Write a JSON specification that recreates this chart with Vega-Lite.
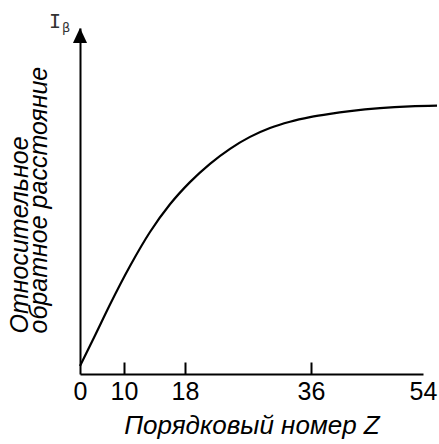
{
  "$schema": "https://vega.github.io/schema/vega-lite/v6.json",
  "width": 343,
  "height": 346,
  "autosize": {"type": "none"},
  "padding": {"left": 80, "top": 28, "right": 16, "bottom": 70},
  "background": "white",
  "config": {"view": {"stroke": null}, "font": "Liberation Sans"},
  "layer": [
    {
      "data": {"values": [
        {"Z": 0, "I": 2.31},
        {"Z": 3.41, "I": 11.13},
        {"Z": 6.82, "I": 20.09},
        {"Z": 10.79, "I": 31.21},
        {"Z": 13.41, "I": 41.04},
        {"Z": 16.03, "I": 49.05},
        {"Z": 18.71, "I": 55.46},
        {"Z": 21.57, "I": 60.75},
        {"Z": 24.43, "I": 65.09},
        {"Z": 27.29, "I": 68.53},
        {"Z": 30.14, "I": 71.1},
        {"Z": 33.0, "I": 72.92},
        {"Z": 35.86, "I": 74.22},
        {"Z": 39.05, "I": 75.17},
        {"Z": 42.27, "I": 75.95},
        {"Z": 47.09, "I": 76.82},
        {"Z": 51.91, "I": 77.34},
        {"Z": 56.25, "I": 77.54}
      ]},
      "mark": {"type": "line", "color": "black", "strokeWidth": 2.2, "interpolate": "monotone", "clip": false},
      "encoding": {
        "x": {
          "field": "Z", "type": "quantitative",
          "scale": {"domain": [0, 10, 18, 36, 54], "range": [0, 44, 105, 231, 343], "nice": false, "zero": false},
          "axis": {
            "values": [0, 10, 18, 36, 54],
            "title": "Порядковый номер Z",
            "titleFont": "Liberation Sans",
            "titleFontStyle": "italic",
            "titleFontWeight": "normal",
            "titleFontSize": 26,
            "titleColor": "black",
            "titlePadding": 8,
            "labelFont": "Liberation Sans",
            "labelFontSize": 25,
            "labelColor": "black",
            "labelFlush": false,
            "labelOverlap": false,
            "labelPadding": 17,
            "tickSize": -12,
            "tickWidth": 2,
            "tickColor": "black",
            "tickOpacity": {"condition": {"test": "datum.value == 0 || datum.value == 54", "value": 0}, "value": 1},
            "domainColor": "black",
            "domainWidth": 2,
            "grid": false
          }
        },
        "y": {
          "field": "I", "type": "quantitative",
          "scale": {"domain": [0, 100], "nice": false, "zero": false},
          "axis": {
            "title": ["Относительное", "обратное расстояние"],
            "titleFont": "Liberation Sans",
            "titleFontStyle": "italic",
            "titleFontWeight": "normal",
            "titleFontSize": 25,
            "titleColor": "black",
            "titleAngle": 270,
            "titleAlign": "left",
            "titleBaseline": "alphabetic",
            "titleLineHeight": 19,
            "titleX": -53,
            "titleY": 305,
            "labels": false,
            "ticks": false,
            "grid": false,
            "domainColor": "black",
            "domainWidth": 2
          }
        }
      }
    },
    {
      "data": {"values": [{}]},
      "mark": {"type": "point", "shape": "M0,0L0.47,1L-0.47,1Z", "filled": true, "color": "black", "opacity": 1, "size": 900, "clip": false},
      "encoding": {"x": {"datum": 0}, "y": {"datum": 100}}
    },
    {
      "data": {"values": [{}]},
      "mark": {"type": "text", "text": "I", "font": "DejaVu Sans Mono", "fontSize": 20, "align": "center", "baseline": "alphabetic", "color": "#333"},
      "encoding": {"x": {"datum": -5.7}, "y": {"datum": 100}}
    },
    {
      "data": {"values": [{}]},
      "mark": {"type": "text", "text": "β", "font": "DejaVu Sans", "fontSize": 13, "align": "center", "baseline": "alphabetic", "color": "#333"},
      "encoding": {"x": {"datum": -3.15}, "y": {"datum": 98.9}}
    }
  ]
}
